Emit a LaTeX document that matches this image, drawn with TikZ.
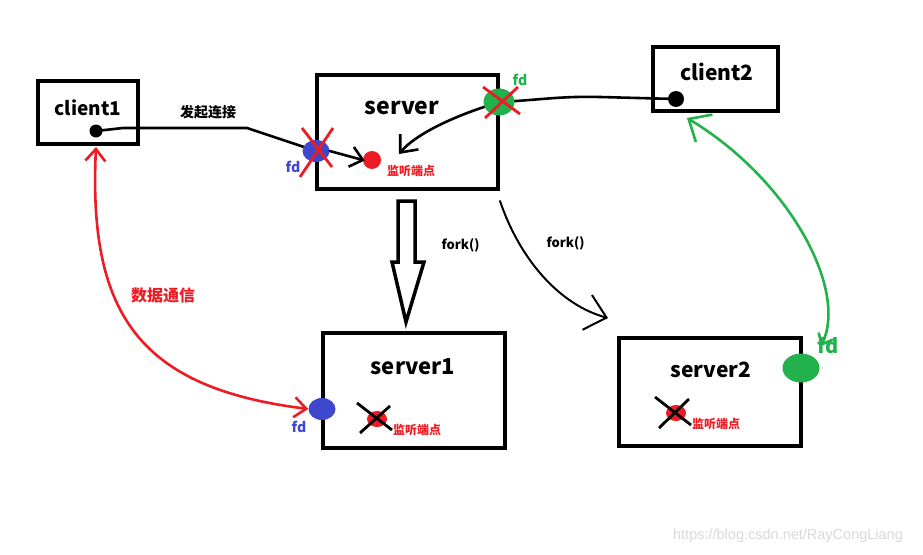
\documentclass[tikz,border=0pt]{standalone}
\usepackage{fontspec}
\setmainfont{Noto Sans CJK SC}
\newfontfamily\wmfont{Liberation Sans}
\usetikzlibrary{arrows.meta,shapes.geometric}
\definecolor{pred}{HTML}{ED1C24}
\definecolor{pblue}{HTML}{3F48CC}
\definecolor{pgreen}{HTML}{22B14C}
\tikzset{
  box/.style={draw=black,line width=4.5pt,rectangle,inner sep=0pt},
  lbl/.style={inner sep=0pt,font=\bfseries\fontsize{#1}{#1}\selectfont},
  dot/.style={circle,fill=black,inner sep=0pt,minimum size=#1},
  blob/.style={ellipse,inner sep=0pt,draw=none},
  conn/.style={draw=black,line width=2.6pt,line cap=round,line join=round},
  barb/.style={-{Straight Barb[length=#1,width=1.7*#1,line width=2.6pt]}},
  cross/.style={line width=2.8pt},
}
\begin{document}
\begin{tikzpicture}[x=1pt,y=-1pt]
\useasboundingbox[fill=white] (0,0) rectangle (923,554);
% boxes
\node[box,minimum width=100pt,minimum height=63pt] (client1) at (88,112.5) {};
\node[box,minimum width=181pt,minimum height=114pt] (server) at (407.5,132) {};
\node[box,minimum width=125pt,minimum height=64pt] (client2) at (715.5,79) {};
\node[box,minimum width=182pt,minimum height=115pt] (server1) at (414,390.5) {};
\node[box,minimum width=182pt,minimum height=108pt] (server2) at (710,392) {};
% box labels
\node[lbl=19] (t1) at (88,108) {client1};
\node[lbl=23] (t2) at (402,108) {server};
\node[lbl=21] (t3) at (717,72) {client2};
\node[lbl=22] (t4) at (413,367) {server1};
\node[lbl=21] (t5) at (711,370) {server2};
\node[lbl=14] (t6) at (208,112) {发起连接};
\node[lbl=13] (t7) at (460.5,245) {fork()};
\node[lbl=13] (t8) at (565.5,243) {fork()};
\node[lbl=16,text=pred,font=\fontsize{16}{16}\selectfont\bfseries] (t9) at (163,295) {数据通信};
\node[lbl=12,text=pred] (t10) at (411,171) {监听端点};
\node[lbl=12,text=pred] (t11) at (417,430) {监听端点};
\node[lbl=12,text=pred] (t12) at (716,424) {监听端点};
\node[lbl=14,text=pblue] (t13) at (293,167) {fd};
\node[lbl=14,text=pblue] (t14) at (299,427) {fd};
\node[lbl=14,text=pgreen] (t15) at (520,80) {fd};
\node[lbl=20,text=pgreen] (t16) at (828,346) {fd};
\node[inner sep=0pt,text=black!15,font=\wmfont\fontsize{14.5}{14.5}\selectfont] (wm) at (788,536) {https://blog.csdn.net/RayCongLiang};
% connectors (drawn before dots)
\coordinate (k1) at (123,128);
\coordinate (k2) at (247,128);
\draw[conn] (96,131) -- (k1) -- (k2) -- (316,151);
\coordinate (c2end) at (676,99);
\draw[conn] (499,102) .. controls (540,100) and (560,96) .. (600,97) -- (c2end);
\coordinate (inner) at (399,154);
\draw[conn,barb=14pt] (487,106) .. controls (450,118) and (415,135) .. (inner);
% dots
\node[dot=13pt] (c1dot) at (96,131) {};
\node[dot=16pt] (c2dot) at (676,99) {};
\node[blob,fill=pblue,minimum width=27pt,minimum height=22pt] (bluefd) at (316,151) {};
\node[circle,fill=pred,inner sep=0pt,minimum size=18pt] (reddot) at (372,160) {};
\node[blob,fill=pgreen,minimum width=31pt,minimum height=27pt] (greenfd) at (499,102) {};
\node[blob,fill=pblue,minimum width=27pt,minimum height=22pt] (blue1) at (322,409) {};
\node[blob,fill=pred,minimum width=20pt,minimum height=16pt] (red1) at (377,419) {};
\node[blob,fill=pred,minimum width=20pt,minimum height=16pt] (red2) at (676,413) {};
\node[blob,fill=pgreen,minimum width=37pt,minimum height=29pt] (green2) at (801,368) {};
% arrow fd -> listening point
\draw[conn,barb=12pt,shorten >=-2pt] (bluefd.east) -- (reddot.west);
% crosses
\draw[pred,cross] (302,128) -- (332,167) (333,128) -- (300,177);
\draw[pred,cross] (483,87) -- (520,114) (518,87) -- (485,118);
\draw[black,cross] (357,403) -- (392,430) (390,406) -- (360,433);
\draw[black,cross] (655,397) -- (691,425) (689,399) -- (659,428);
% hollow fork arrow
\draw[line width=3.5pt,line join=miter,fill=white] (398,201) -- (415,201) -- (415,262) -- (424,262) -- (406,322) -- (392,262) -- (398,262) -- cycle;
% curved fork arrow
\coordinate (f0) at (500,201);
\coordinate (f1) at (608,318);
\draw[conn,line width=2pt,-{Straight Barb[length=20pt,width=36pt,line width=2pt]}] (f0) .. controls (520,260) and (560,305) .. (f1);
% red data arrow
\coordinate (r1) at (96,147);
\draw[pred,line width=2.6pt,line cap=round,{Straight Barb[length=12pt,width=20pt,line width=2.6pt]}-{Straight Barb[length=12pt,width=20pt,line width=2.6pt]}] (r1) .. controls (88,315) and (140,388) .. (blue1.west);
% green arrow
\coordinate (g1) at (687,118);
\coordinate (g2) at (821,346);
\draw[pgreen,line width=2.6pt,line cap=round,{Straight Barb[length=9pt,width=16pt,line width=2.6pt]}-{Straight Barb[length=18pt,width=32pt,line width=2.6pt]}] (g2) .. controls (848,290) and (790,180) .. (g1);
\end{tikzpicture}
\end{document}
